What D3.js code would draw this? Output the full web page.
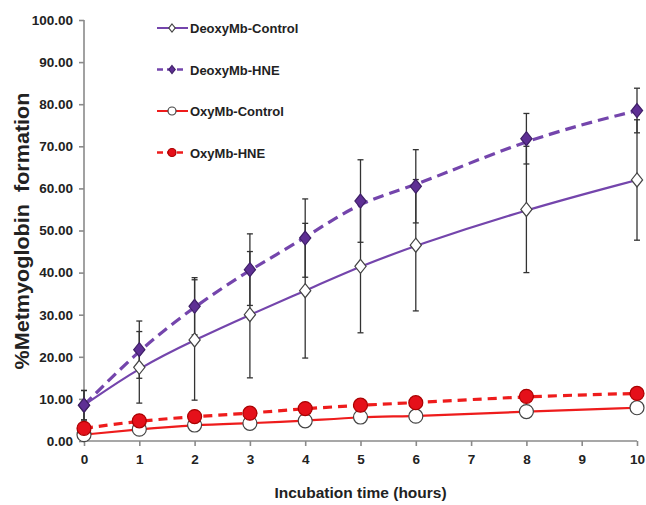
<!DOCTYPE html>
<html>
<head>
<meta charset="utf-8">
<script src="https://cdn.jsdelivr.net/npm/d3@7"></script>
<style>
    body { margin: 0; background: #fff; }
    text { font-family: "Liberation Sans", Arial, sans-serif; font-weight: bold; fill: #222; }
</style>
</head>
<body>
<div id="chart"></div>
<script>
// incubation hours
let hours = [0, 1, 2, 3, 4, 5, 6, 8, 10];

let deoxyControl = [8.5, 17.5, 24.0, 30.0, 35.7, 41.5, 46.5, 55.0, 62.0];
let deoxyControlErr = [3.5, 8.5, 14.3, 15.0, 16.0, 15.8, 15.6, 15.0, 14.3];
let deoxyHNE = [8.5, 21.7, 32.0, 40.7, 48.2, 57.0, 60.5, 71.8, 78.5];
let deoxyHNEErr = [3.5, 6.8, 6.8, 8.5, 9.3, 9.8, 8.7, 6.0, 5.3];
let oxyControl = [1.5, 2.8, 3.8, 4.2, 4.8, 5.7, 5.9, 7.0, 7.9];
let oxyHNE = [3.0, 4.8, 5.8, 6.6, 7.7, 8.5, 9.1, 10.6, 11.3];

let seriesNames = ["DeoxyMb-Control", "DeoxyMb-HNE", "OxyMb-Control", "OxyMb-HNE"];
let xTicks = [0, 1, 2, 3, 4, 5, 6, 7, 8, 9, 10];
let yTicks = [0, 10, 20, 30, 40, 50, 60, 70, 80, 90, 100];

let purple = "#7445ac", purpleFill = "#5e2f94", red = "#ee1c1c", redFill = "#e5101a";

let series = [
    {name: seriesNames[0], values: deoxyControl, err: deoxyControlErr, color: purple, dash: null, shape: "diamond", fill: "#fff"},
    {name: seriesNames[1], values: deoxyHNE, err: deoxyHNEErr, color: purple, dash: "11,6", shape: "diamond", fill: purpleFill},
    {name: seriesNames[2], values: oxyControl, err: null, color: red, dash: null, shape: "circle", fill: "#fff"},
    {name: seriesNames[3], values: oxyHNE, err: null, color: red, dash: "9,6", shape: "circle", fill: redFill}
];

let width = 646, height = 505;
let svg = d3.select("#chart").append("svg")
    .attr("width", width)
    .attr("height", height);

let x = d3.scaleLinear().domain([0, 10]).range([84, 637]);
let y = d3.scaleLinear().domain([0, 100]).range([441, 20]);

// axes
let yAxis = svg.append("g")
    .attr("transform", "translate(84,0)")
    .call(d3.axisLeft(y).tickValues(yTicks).tickSize(5).tickPadding(6).tickFormat(d3.format(".2f")));
let xAxis = svg.append("g")
    .attr("transform", "translate(0,441)")
    .call(d3.axisBottom(x).tickValues(xTicks).tickSize(5).tickPadding(8).tickFormat(d3.format("d")));
[yAxis, xAxis].forEach(function (a) {
    a.selectAll("path, line").attr("stroke", "#8a8a8a").attr("stroke-width", 1.6);
    a.select(".domain").attr("d", a === yAxis ? "M0," + y(100) + "V" + y(0) : "M" + x(0) + ",0H" + x(10));
    a.selectAll("text").style("font-size", "13.5px").style("font-family", "'Liberation Sans', Arial, sans-serif")
        .style("font-weight", "bold").attr("fill", "#222");
});

// axis titles
svg.append("text")
    .attr("x", x(5)).attr("y", 498)
    .attr("text-anchor", "middle")
    .style("font-size", "15.5px")
    .text("Incubation time (hours)");
svg.append("text")
    .attr("transform", "translate(29,231) rotate(-90)")
    .attr("text-anchor", "middle")
    .attr("textLength", 277)
    .attr("lengthAdjust", "spacingAndGlyphs")
    .style("font-size", "20px")
    .style("white-space", "pre")
    .text("%Metmyoglobin  formation");

// lines
let line = d3.line()
    .x(function (d, i) { return x(hours[i]); })
    .y(function (d) { return y(d); })
    .curve(d3.curveBasis);

series.forEach(function (s) {
    svg.append("path")
        .datum(s.values)
        .attr("fill", "none")
        .attr("stroke", s.color)
        .attr("stroke-width", s.dash ? 3.2 : 2.2)
        .attr("stroke-dasharray", s.dash)
        .attr("d", line);
});

// error bars
series.filter(function (s) { return s.err; }).forEach(function (s) {
    let g = svg.append("g").attr("stroke", "#333").attr("stroke-width", 1.3);
    s.values.forEach(function (v, i) {
        let cx = x(hours[i]), lo = y(v - s.err[i]), hi = y(v + s.err[i]);
        g.append("line").attr("x1", cx).attr("x2", cx).attr("y1", lo).attr("y2", hi);
        g.append("line").attr("x1", cx - 3).attr("x2", cx + 3).attr("y1", lo).attr("y2", lo);
        g.append("line").attr("x1", cx - 3).attr("x2", cx + 3).attr("y1", hi).attr("y2", hi);
    });
});

// markers
function marker(g, s, cx, cy, size) {
    if (s.shape === "diamond") {
        g.append("path")
            .attr("d", "M" + cx + "," + (cy - size) + "L" + (cx + size * 0.8) + "," + cy + "L" + cx + "," + (cy + size) + "L" + (cx - size * 0.8) + "," + cy + "Z")
            .attr("fill", s.fill)
            .attr("stroke", s.fill === "#fff" ? "#444" : "#3e1f66")
            .attr("stroke-width", 1.2);
    } else {
        g.append("circle")
            .attr("cx", cx).attr("cy", cy).attr("r", size)
            .attr("fill", s.fill)
            .attr("stroke", s.fill === "#fff" ? "#444" : "#a00")
            .attr("stroke-width", 1.2);
    }
}

series.forEach(function (s) {
    let g = svg.append("g");
    s.values.forEach(function (v, i) {
        marker(g, s, x(hours[i]), y(v), 7);
    });
});

// legend
let legend = svg.append("g");
series.forEach(function (s, i) {
    let ly = 28 + i * 41.5;
    let g = legend.append("g");
    g.append("line")
        .attr("x1", 157).attr("x2", s.dash ? 184 : 188)
        .attr("y1", ly).attr("y2", ly)
        .attr("stroke", s.color)
        .attr("stroke-width", s.dash ? 2.5 : 2)
        .attr("stroke-dasharray", s.dash ? "6,4" : null);
    marker(g, s, 172, ly, 4);
    g.append("text")
        .attr("x", 190).attr("y", ly + 5)
        .style("font-size", "13px")
        .text(s.name);
});
</script>
</body>
</html>
